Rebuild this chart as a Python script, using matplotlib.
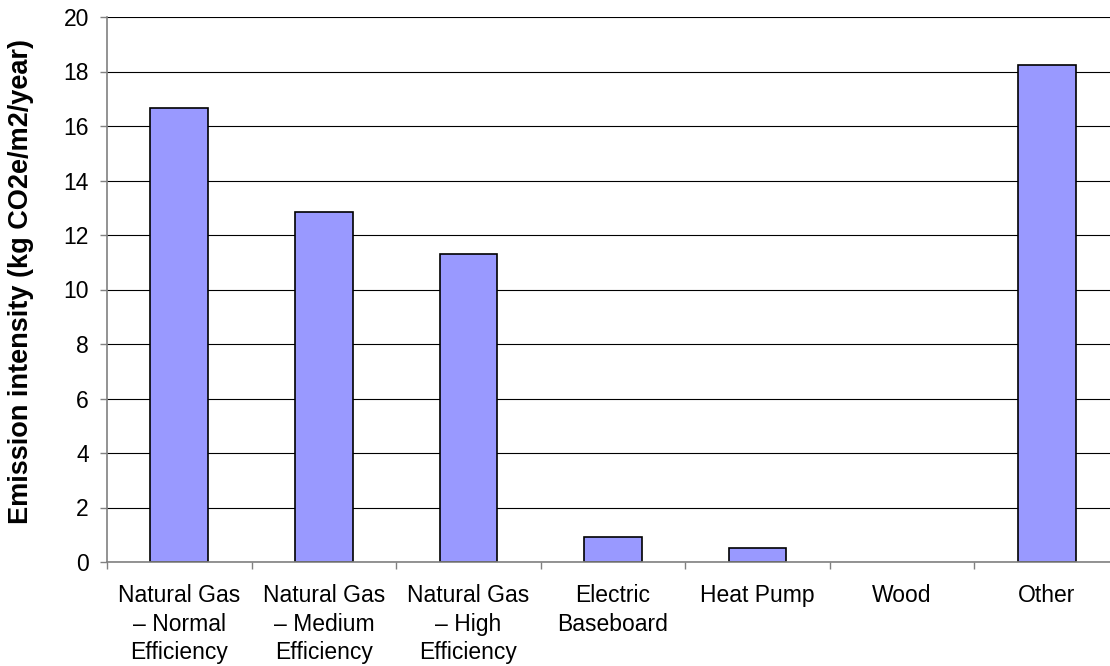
import matplotlib
matplotlib.use("Agg")
import matplotlib.pyplot as plt
import numpy as np

plt.rcParams['font.family'] = ['Liberation Sans', 'DejaVu Sans']

categories = ["Natural Gas\n– Normal\nEfficiency", "Natural Gas\n– Medium\nEfficiency",
              "Natural Gas\n– High\nEfficiency", "Electric\nBaseboard", "Heat Pump", "Wood", "Other"]
values = [16.67, 12.85, 11.31, 0.93, 0.51, 0.0, 18.24]
yticks = [0, 2, 4, 6, 8, 10, 12, 14, 16, 18, 20]

W, H = 1110, 666
fig = plt.figure(figsize=(W/100, H/100), dpi=100)
left, right, top, bottom = 107, 1119, 17, 562
ax = fig.add_axes([left/W, 1 - bottom/H, (right-left)/W, (bottom-top)/H])

x = np.arange(len(categories))
edge_widths = [1.2 if v > 0 else 0 for v in values]
ax.bar(x, values, width=0.40, color='#9999FF', edgecolor='black', linewidth=edge_widths, zorder=3)
ax.set_xlim(-0.5, len(categories) - 0.5)
ax.set_ylim(0, 20)
ax.set_yticks(yticks)
ax.set_yticklabels([str(v) for v in yticks], fontsize=16.5)
ax.grid(axis='y', color='black', linewidth=0.8, zorder=0)

ax.set_xticks(x)
ax.set_xticklabels(categories, fontsize=16.5, linespacing=1.3)
ax.tick_params(axis='x', which='major', length=0, pad=16)
ax.set_xticks(np.arange(-0.5, len(categories)), minor=True)
ax.tick_params(axis='x', which='minor', length=5, color='#808080', width=1)
ax.tick_params(axis='y', length=5, color='#808080', width=1, pad=8)

for s in ['top', 'right']:
    ax.spines[s].set_visible(False)
for s in ['left', 'bottom']:
    ax.spines[s].set_color('#808080')
    ax.spines[s].set_linewidth(1.2)
    ax.spines[s].set_zorder(4)

ax.set_ylabel("Emission intensity (kg CO2e/m2/year)", fontsize=19.5, fontweight='bold')
ax.yaxis.set_label_coords(-86/(right-left), (562-281)/(562-17))
ax.yaxis.label.set_verticalalignment('center')

fig.savefig("out.png", dpi=100)
